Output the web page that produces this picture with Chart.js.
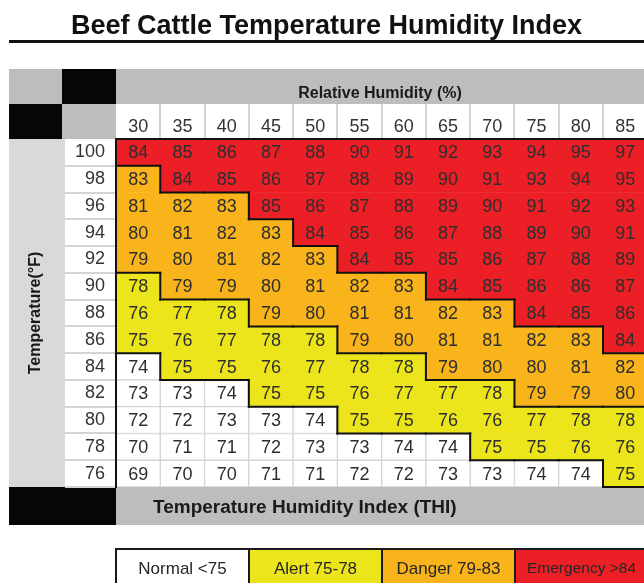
<!DOCTYPE html>
<html>
<head>
<meta charset="utf-8">
<script src="https://cdn.jsdelivr.net/npm/chart.js@4/dist/chart.umd.min.js"></script>
<style>
  html, body { margin: 0; padding: 0; background: #fff; }
  canvas { display: block; }
</style>
</head>
<body>
<canvas id="thiChart" width="644" height="583"></canvas>
<script>
const humidity = [30, 35, 40, 45, 50, 55, 60, 65, 70, 75, 80, 85];
const temperatures = [100, 98, 96, 94, 92, 90, 88, 86, 84, 82, 80, 78, 76];
// one row per temperature, one value per humidity column
const thiRows = [
    [84, 85, 86, 87, 88, 90, 91, 92, 93, 94, 95, 97],
    [83, 84, 85, 86, 87, 88, 89, 90, 91, 93, 94, 95],
    [81, 82, 83, 85, 86, 87, 88, 89, 90, 91, 92, 93],
    [80, 81, 82, 83, 84, 85, 86, 87, 88, 89, 90, 91],
    [79, 80, 81, 82, 83, 84, 85, 85, 86, 87, 88, 89],
    [78, 79, 79, 80, 81, 82, 83, 84, 85, 86, 86, 87],
    [76, 77, 78, 79, 80, 81, 81, 82, 83, 84, 85, 86],
    [75, 76, 77, 78, 78, 79, 80, 81, 81, 82, 83, 84],
    [74, 75, 75, 76, 77, 78, 78, 79, 80, 80, 81, 82],
    [73, 73, 74, 75, 75, 76, 77, 77, 78, 79, 79, 80],
    [72, 72, 73, 73, 74, 75, 75, 76, 76, 77, 78, 78],
    [70, 71, 71, 72, 73, 73, 74, 74, 75, 75, 76, 76],
    [69, 70, 70, 71, 71, 72, 72, 73, 73, 74, 74, 75]
];
const bandNames = ['Normal <75', 'Alert 75-78', 'Danger 79-83', 'Emergency >84'];
const bandStarts = [75, 79, 84];
const bandColors = ['#ffffff', '#ece51c', '#f8b41a', '#ec1f26'];

const sansFont = '"Liberation Sans", Arial, sans-serif';

function bandOf(v) {
    let b = 0;
    bandStarts.forEach(s => { if (v >= s) b++; });
    return b;
}

// every cell is a floating bar: x = humidity, y = [temp - 1, temp + 1]
const cells = [];
temperatures.forEach((t, r) => {
    humidity.forEach((h, c) => {
        cells.push({ x: h, y: [t - 1, t + 1], thi: thiRows[r][c], row: r, col: c });
    });
});

function line(ctx, x0, y0, x1, y1) {
    ctx.beginPath();
    ctx.moveTo(x0, y0);
    ctx.lineTo(x1, y1);
    ctx.stroke();
}

const tableFrame = {
    id: 'tableFrame',
    beforeDraw(chart) {
        const { ctx, chartArea: a, scales: { x, y } } = chart;
        const w = chart.width;
        const top1 = 69, top2 = 104;
        ctx.save();
        ctx.fillStyle = '#fff';
        ctx.fillRect(0, 0, w, chart.height);

        // rule under the title
        ctx.fillStyle = '#111';
        ctx.fillRect(9, 40, w - 9, 3);

        // header blocks
        ctx.fillStyle = '#bdbdbd';
        ctx.fillRect(9, top1, 53, top2 - top1);
        ctx.fillRect(a.left, top1, w - a.left, top2 - top1);
        ctx.fillRect(62, top2, a.left - 62, a.top - top2);
        ctx.fillStyle = '#060606';
        ctx.fillRect(62, top1, a.left - 62, top2 - top1);
        ctx.fillRect(9, top2, 53, a.top - top2);

        // left column behind the temperature title
        ctx.fillStyle = '#d9d9d9';
        ctx.fillRect(9, a.top, 56, a.bottom - a.top);

        // bottom band
        ctx.fillStyle = '#060606';
        ctx.fillRect(9, a.bottom, a.left - 9, 38);
        ctx.fillStyle = '#bdbdbd';
        ctx.fillRect(a.left, a.bottom, w - a.left, 38);

        ctx.fillStyle = '#1a1a1a';
        ctx.font = 'bold 19px ' + sansFont;
        ctx.textAlign = 'left';
        ctx.textBaseline = 'middle';
        ctx.fillText('Temperature Humidity Index (THI)', 153, a.bottom + 21);

        // light separators of the header and label cells
        ctx.strokeStyle = '#d4d4d4';
        ctx.lineWidth = 2;
        humidity.forEach(h => {
            const px = Math.round(x.getPixelForValue(h + 2.5));
            line(ctx, px, top2, px, a.top);
        });
        temperatures.forEach(t => {
            const py = Math.round(y.getPixelForValue(t - 1));
            line(ctx, 65, py, a.left, py);
        });
        ctx.restore();
    },
    afterDatasetsDraw(chart) {
        const { ctx, chartArea: a, scales: { x, y } } = chart;
        const band = (r, c) => {
            if (r < 0 || r >= temperatures.length || c < 0 || c >= humidity.length) return -1;
            return bandOf(thiRows[r][c]);
        };
        ctx.save();

        // cell values
        ctx.fillStyle = '#2e2e2e';
        ctx.font = '18px ' + sansFont;
        ctx.textAlign = 'center';
        ctx.textBaseline = 'middle';
        chart.getDatasetMeta(0).data.forEach((bar, i) => {
            const p = bar.getProps(['x', 'y', 'base'], true);
            ctx.fillText(cells[i].thi, p.x, (p.y + p.base) / 2 + 1);
        });

        // black borders between the THI bands
        ctx.strokeStyle = '#111';
        ctx.lineWidth = 2;
        ctx.lineCap = 'square';
        cells.forEach(cell => {
            const b = band(cell.row, cell.col);
            const x0 = x.getPixelForValue(cell.x - 2.5);
            const x1 = x.getPixelForValue(cell.x + 2.5);
            const y0 = y.getPixelForValue(cell.y[1]);
            const y1 = y.getPixelForValue(cell.y[0]);
            const right = band(cell.row, cell.col + 1);
            const below = band(cell.row + 1, cell.col);
            if (right !== b && !(right === -1 && b === 0)) line(ctx, x1, y0, x1, y1);
            if (below !== b && !(below === -1 && b === 0)) line(ctx, x0, y1, x1, y1);
            if (cell.row === 0 && b !== 0) line(ctx, x0, y0, x1, y0);
        });
        line(ctx, a.left, a.top, a.left, a.bottom);
        ctx.restore();
    },
    afterDraw(chart) {
        const { ctx, chartArea: a } = chart;
        const boxW = 133, boxTop = 549;
        ctx.save();
        ctx.textAlign = 'center';
        ctx.textBaseline = 'middle';
        bandNames.forEach((name, i) => {
            const bx = a.left + i * boxW;
            ctx.fillStyle = bandColors[i];
            ctx.fillRect(bx, boxTop, boxW, 40);
            ctx.strokeStyle = '#1a1a1a';
            ctx.lineWidth = 2;
            ctx.strokeRect(bx, boxTop, boxW, 40);
            ctx.fillStyle = '#262626';
            ctx.font = (i === 3 ? '15.5px ' : '17px ') + sansFont;
            ctx.fillText(name, bx + boxW / 2, boxTop + 20);
        });
        ctx.restore();
    }
};

new Chart(document.getElementById('thiChart'), {
    type: 'bar',
    data: {
        datasets: [{
            data: cells,
            backgroundColor: ctx => bandColors[bandOf(ctx.raw.thi)],
            borderColor: '#d4d4d4',
            borderWidth: ctx => bandOf(ctx.raw.thi) === 0 ? 1 : 0,
            borderSkipped: false,
            barPercentage: 1,
            categoryPercentage: 1,
            grouped: false
        }]
    },
    options: {
        responsive: false,
        animation: false,
        events: [],
        layout: { padding: { left: 9, top: 0, right: 0, bottom: 96 } },
        plugins: {
            legend: { display: false },
            tooltip: { enabled: false },
            title: {
                display: true,
                text: 'Beef Cattle Temperature Humidity Index',
                color: '#111',
                font: { family: sansFont, size: 27, weight: 'bold' },
                padding: { top: 10, bottom: 26.6 }
            }
        },
        scales: {
            x: {
                type: 'linear',
                position: 'top',
                min: 27.5,
                max: 87.13,
                offset: false,
                grid: { display: false, drawTicks: false },
                border: { display: false },
                afterBuildTicks: scale => { scale.ticks = humidity.map(h => ({ value: h })); },
                ticks: {
                    padding: 1,
                    color: '#333',
                    font: { family: sansFont, size: 18 }
                },
                title: {
                    display: true,
                    text: 'Relative Humidity (%)',
                    color: '#1a1a1a',
                    font: { family: sansFont, size: 16, weight: 'bold' },
                    padding: { top: 15, bottom: 0 }
                },
                afterFit: scale => { scale.height = 70; }
            },
            y: {
                type: 'linear',
                min: 75,
                max: 101,
                beginAtZero: false,
                grid: { display: false, drawTicks: false },
                border: { display: false },
                afterBuildTicks: scale => { scale.ticks = temperatures.map(t => ({ value: t })); },
                ticks: {
                    padding: 11,
                    color: '#333',
                    font: { family: sansFont, size: 18 }
                },
                title: {
                    display: true,
                    text: 'Temperature(°F)',
                    color: '#1a1a1a',
                    font: { family: sansFont, size: 16, weight: 'bold' },
                    padding: { top: 17, bottom: 0 }
                },
                afterFit: scale => { scale.width = 107; }
            }
        }
    },
    plugins: [tableFrame]
});
</script>
</body>
</html>
